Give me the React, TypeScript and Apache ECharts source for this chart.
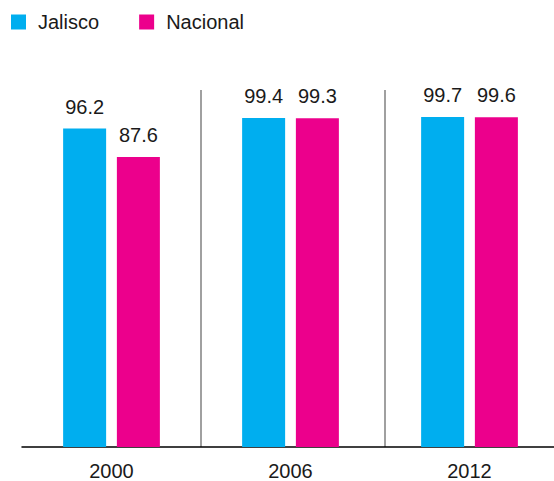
import React, { useEffect, useRef } from "react";
import * as echarts from "echarts";

const categories = ["2000", "2006", "2012"];
const jalisco = [96.2, 99.4, 99.7];
const nacional = [87.6, 99.3, 99.6];
const seriesNames = ["Jalisco", "Nacional"];

const FONT = "'Liberation Sans', Arial, sans-serif";

export default function App() {
  const ref = useRef<HTMLDivElement>(null);
  useEffect(() => {
    if (!ref.current) return;
    const chart = echarts.init(ref.current, undefined, { renderer: "svg" });
    const label = {
      show: true,
      position: "top",
      distance: 12,
      color: "#1a1a1a",
      fontSize: 20,
      fontFamily: FONT,
      formatter: (p: any) => p.value.toFixed(1),
    };
    chart.setOption({
      animation: false,
      legend: {
        left: 6,
        top: 7,
        itemWidth: 15,
        itemHeight: 15,
        itemGap: 40,
        icon: "rect",
        textStyle: { fontSize: 20, fontFamily: FONT, color: "#1a1a1a", padding: [0, 0, 0, 7] },
        data: seriesNames,
      },
      grid: { left: 22, width: 537, top: 116, bottom: 34, containLabel: false },
      xAxis: {
        type: "category",
        data: categories,
        axisLine: { lineStyle: { color: "#000", width: 1.5 } },
        axisTick: { show: false },
        axisLabel: { fontSize: 20, fontFamily: FONT, color: "#1a1a1a", margin: 14 },
      },
      yAxis: {
        type: "value",
        min: 0,
        max: 100,
        show: false,
        splitLine: { show: false },
      },
      graphic: [
        { type: "line", shape: { x1: 201, y1: 90, x2: 201, y2: 447 }, style: { stroke: "#808080", lineWidth: 1.5 } },
        { type: "line", shape: { x1: 385, y1: 90, x2: 385, y2: 447 }, style: { stroke: "#808080", lineWidth: 1.5 } },
      ],
      series: [
        {
          name: seriesNames[0],
          type: "bar",
          data: jalisco,
          barWidth: 43,
          barGap: "25%",
          itemStyle: { color: "#00AEEF" },
          label,
        },
        {
          name: seriesNames[1],
          type: "bar",
          data: nacional,
          barWidth: 43,
          itemStyle: { color: "#EC008C" },
          label,
        },
      ],
    });
    return () => chart.dispose();
  }, []);
  return (
    <div style={{ width: 554, height: 481, position: "absolute", left: 0, top: 0, overflow: "hidden" }}>
      <div ref={ref} style={{ width: 560, height: 481 }} />
    </div>
  );
}
